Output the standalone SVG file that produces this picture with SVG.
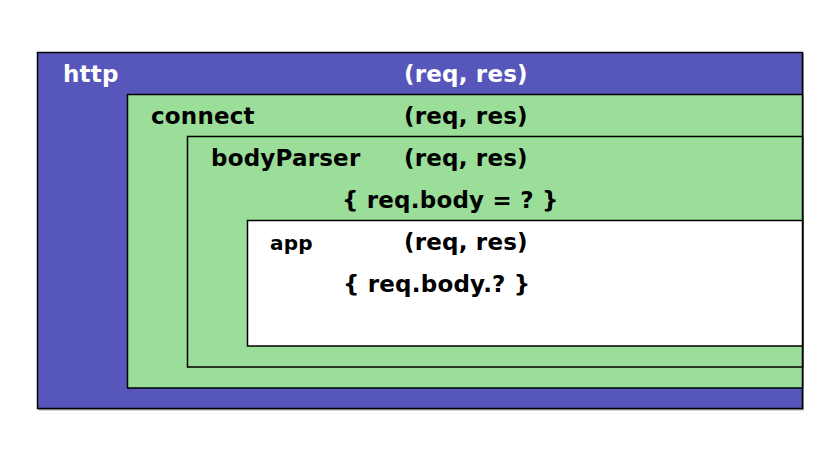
<svg xmlns="http://www.w3.org/2000/svg" width="840" height="462" viewBox="0 0 840 462">
<style>
.box{stroke:#000;stroke-width:1.5}
.shadow{fill:#aaa}
.blue{fill:#5656bb}
.green{fill:#9ade9a}
.white{fill:#fff}
text{font-family:"DejaVu Sans",sans-serif;font-weight:bold;font-size:23px;letter-spacing:0.2px;fill:#000}
.lt{fill:#fff}
.sm{font-size:20px}
</style>
<rect width="840" height="462" fill="#fff"/>
<g id="http">
<rect class="shadow" x="38.5" y="53.5" width="765.5" height="357"/>
<rect class="box blue" x="37.5" y="52.5" width="765" height="356"/>
<text class="lt" x="63" y="82">http</text>
<text class="lt" x="404" y="82">(req, res)</text>
</g>
<g id="connect">
<rect class="box green" x="127.5" y="94.5" width="675" height="293.5"/>
<text x="151" y="124">connect</text>
<text x="404" y="124">(req, res)</text>
</g>
<g id="bodyParser">
<rect class="box green" x="187.5" y="136.5" width="615" height="230.5"/>
<text x="211" y="166">bodyParser</text>
<text x="404" y="166">(req, res)</text>
<text x="342" y="208">{ req.body = ? }</text>
</g>
<g id="app">
<rect class="box white" x="247.5" y="220.5" width="555" height="125.5"/>
<text class="sm" x="270" y="250">app</text>
<text x="404" y="250">(req, res)</text>
<text x="343" y="292">{ req.body.? }</text>
</g>
<g id="connectors"/>
</svg>
